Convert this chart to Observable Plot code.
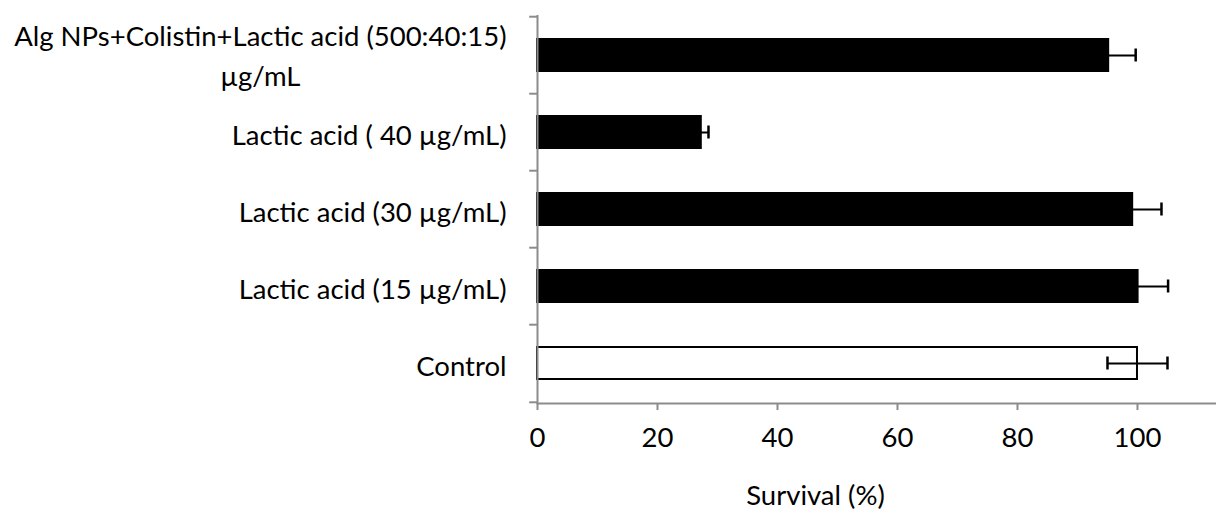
<!DOCTYPE html>
<html><head><meta charset="utf-8">
<script src="https://cdn.jsdelivr.net/npm/d3@7"></script>
<script src="https://cdn.jsdelivr.net/npm/@observablehq/plot@0.6"></script>
<style>html,body{margin:0;background:#fff} svg{display:block}</style>
</head><body><div id="chart"></div>
<script>
const categories = [
  "Alg NPs+Colistin+Lactic acid (500:40:15)\nµg/mL",
  "Lactic acid ( 40 µg/mL)",
  "Lactic acid (30 µg/mL)",
  "Lactic acid (15 µg/mL)",
  "Control"
];
const survival = [95.2, 27.3, 99.2, 100.1, 100];
const errors = [4.5, 1.2, 4.8, 5.0, 5.0];
const fills = ["black", "black", "black", "black", "white"];
const xTicks = [0, 20, 40, 60, 80, 100];
const xLabel = "Survival (%)";

const data = categories.map((c, i) => ({cat: c, v: survival[i], e: errors[i], fill: fills[i]}));

const W = 1216, H = 513, mt = 15, mb = 110, ml = 537;
const step = (H - mt - mb) / categories.length;
const font = "Lato, 'Open Sans', sans-serif";
const grey = "#8c8c8c";
const fs = 27.5;

const chart = Plot.plot({
  width: W, height: H,
  marginLeft: ml, marginRight: 0, marginTop: mt, marginBottom: mb,
  style: {fontFamily: font, fontSize: fs + "px", color: "black", background: "white"},
  x: {domain: [0, 113.17], label: null},
  y: {domain: categories, paddingInner: 0.588, paddingOuter: 0.294, label: null},
  color: {type: "identity"},
  marks: [
    Plot.axisY({tickSize: 0, tickPadding: 31, lineHeight: 1.42, fontSize: fs, fill: "black", label: null}),
    Plot.axisX({ticks: xTicks, tickSize: 7, stroke: grey, strokeWidth: 2, tickPadding: 17, fontSize: fs, fill: "black", label: null}),
    Plot.barX(data, {y: "cat", x: "v", fill: "fill", stroke: "black", strokeWidth: 2}),
    Plot.ruleY(data, {y: "cat", x1: d => d.v - d.e, x2: d => d.v + d.e, stroke: "black", strokeWidth: 2}),
    Plot.tickX(data, {y: "cat", x: d => d.v + d.e, stroke: "black", strokeWidth: 2.5, insetTop: 9.5, insetBottom: 9.5}),
    Plot.tickX(data, {y: "cat", x: d => d.v - d.e, stroke: "black", strokeWidth: 2.5, insetTop: 9.5, insetBottom: 9.5}),
    Plot.ruleX([0], {stroke: grey, strokeWidth: 2}),
    Plot.frame({anchor: "bottom", stroke: grey, strokeWidth: 2}),
    Plot.ruleY(categories, {y: d => d, x1: -1.3, x2: 0, dy: -step / 2, stroke: grey, strokeWidth: 2}),
    Plot.ruleY(categories.slice(-1), {y: d => d, x1: -1.3, x2: 0, dy: step / 2, stroke: grey, strokeWidth: 2}),
    Plot.text([xLabel], {frameAnchor: "bottom-left", textAnchor: "middle", dx: 278, dy: 101, fontSize: fs, fill: "black"})
  ]
});
document.getElementById("chart").appendChild(chart);

// center the multi-line category label as a block (as in the reference)
d3.select(chart).selectAll("text").each(function() {
  const tspans = this.querySelectorAll("tspan");
  if (tspans.length > 1) {
    const w = this.getBBox().width;
    this.setAttribute("text-anchor", "middle");
    const tr = this.getAttribute("transform") || "";
    const m = tr.match(/translate\(([-\d.]+),\s*([-\d.]+)\)/);
    if (m) this.setAttribute("transform", `translate(${+m[1] - w / 2},${+m[2] - 2})`);
    else this.setAttribute("transform", `translate(${-w / 2},-2) ` + tr);
  }
});
</script>
</body></html>
